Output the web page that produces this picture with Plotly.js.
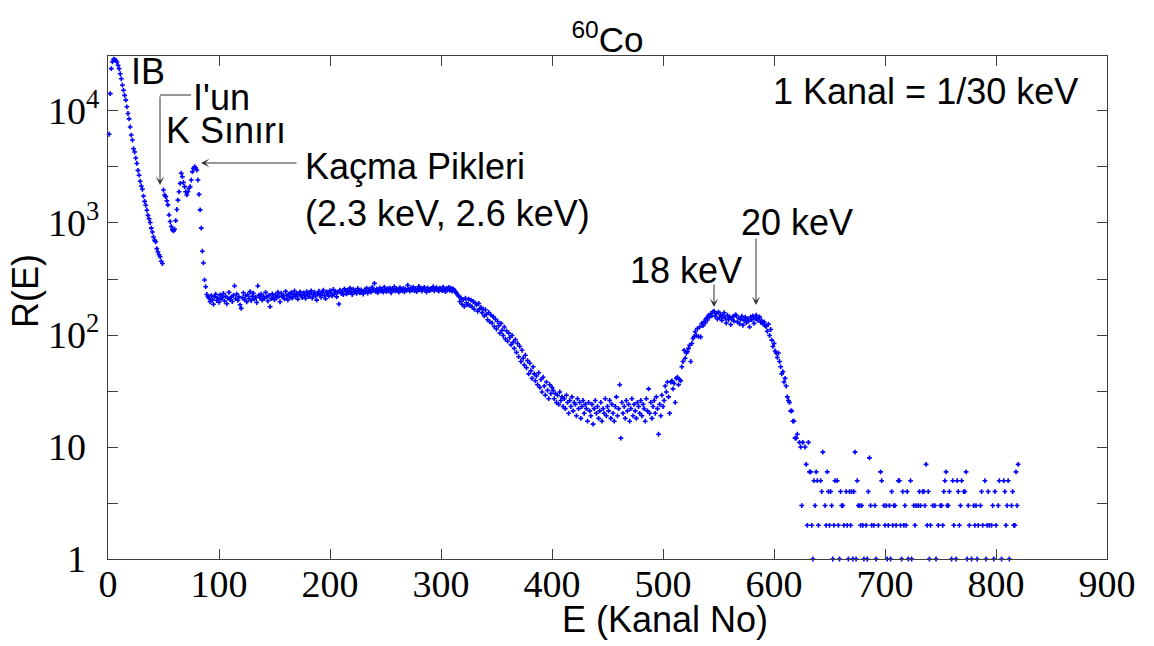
<!DOCTYPE html>
<html><head><meta charset="utf-8">
<script src="https://cdn.plot.ly/plotly-3.0.1.min.js"></script>
<style>html,body{margin:0;padding:0;background:#fff}</style>
</head><body>
<div id="chart" style="width:1154px;height:646px"></div>
<script>
// ---- DATA (counts per channel) ----
const firstChannel = 1;
// channels 1-49 : internal bremsstrahlung (IB)
const ibRegion = [6200,14300,23900,27500,29000,28900,28200,27400,25600,23900,
 21500,19400,17000,15300,13800,12500,10900,9500,8500,7200,
 6100,5500,4600,4300,3800,3400,2950,2670,2360,2140,
 2000,1740,1560,1440,1300,1170,1090,1010,900,830,
 750,700,680,590,550,520,500,455,435];
// channels 50-90 : K edge and escape peaks
const kEdgeRegion = [1970,1780,1720,1580,1450,1180,1030,930,870,850,
 880,1050,1320,1600,1900,2260,2780,2590,2300,2110,
 1900,1780,1900,2040,2110,2420,2870,3080,3180,3100,
 2970,2420,1800,1310,900,560,440,310,270,230,
 220];
// channels 91-315 : plateau
const plateau = [212,198,225,206,188,219,231,203,214,196,
 228,209,217,235,201,222,190,213,240,207,
 218,199,226,274,211,232,204,219,186,173,
 215,238,207,224,198,229,212,244,203,221,
 236,209,218,195,274,227,214,231,205,222,
 213,240,219,201,226,179,211,233,218,207,
 229,215,241,222,198,236,219,227,210,245,
 224,206,232,218,239,213,228,247,221,235,
 209,230,243,225,216,238,227,212,244,231,
 220,236,248,214,229,241,223,205,233,246,
 228,217,239,251,226,211,242,234,222,249,
 237,224,255,231,245,219,240,189,252,236,
 243,229,258,247,233,251,239,262,244,230,
 256,241,249,235,260,246,238,253,243,232,
 251,244,262,237,248,256,241,266,250,289,
 245,258,239,252,264,247,256,241,268,253,
 244,259,249,262,238,256,251,270,246,258,
 252,241,265,255,248,261,243,258,250,278,
 257,246,263,252,268,249,260,244,256,271,
 253,262,247,259,266,251,242,264,255,249,
 261,254,270,248,258,265,252,246,262,257,
 249,268,255,244,260,253,266,250,262,247,
 258,251,243,236,229];
// channels 316-400 : decline
const decline = [221,199,214,188,207,180,213,194,186,209,
 184,205,178,199,170,193,186,163,191,171,
 176,158,170,148,168,153,137,159,131,151,
 128,146,119,139,113,132,121,104,127,110,
 99,118,92,109,88,104,95,82,99,86,
 76,91,70,84,64,79,58,73,62,54,
 66,51,59,45,56,48,41,52,45,39,
 43,36,46,34,40,31,42,35,29,38,
 32,27,36,30,34];
// channels 401-505 : valley
const valley = [32,27,30,25,29,24,31,26,28,23,
 27,22,29,25,20,26,23,28,21,25,
 24,19,27,22,25,18,23,26,20,24,
 22,17,25,21,19,24,16,22,26,20,
 23,18,21,25,17,22,20,27,19,23,
 21,26,18,24,20,17,23,28,19,22,
 36,12,25,20,23,18,26,21,24,17,
 22,27,19,24,21,18,25,23,20,26,
 19,24,22,17,27,21,33,20,25,18,
 23,26,20,28,22,13,24,19,29,23,
 26,35,31,38,28];
// channels 506-613 : 18 keV / 20 keV hump
const peakRegion = [20,38,39,33,37,25,41,42,36,40,
 39,52,58,73,62,69,71,76,81,58,
 84,93,97,107,99,114,97,118,96,127,
 121,132,128,141,136,150,145,155,148,161,
 163,147,156,139,160,143,152,135,148,158,
 141,128,150,137,145,124,139,146,133,151,
 150,131,142,126,138,147,122,135,144,129,
 140,133,118,145,137,148,127,141,150,136,
 139,145,130,134,126,131,121,119,108,125,
 99,112,90,79,84,72,69,63,69,58,
 52,45,47,38,41,35,28,26];
// channels 614-820 : tail (0 = empty channel)
const tail = [25,21,21,17,17,12,12,13,0,11,
 10,3,11,0,10,7,2,11,6,6,
 2,1,5,3,6,5,2,0,5,4,
 9,0,3,2,6,4,2,4,3,1,
 2,5,0,5,2,1,4,3,3,2,
 0,4,2,1,4,2,4,1,4,9,
 1,5,3,3,2,3,2,1,0,2,
 1,4,8,3,2,0,2,3,1,0,
 2,0,6,5,0,3,2,3,1,2,
 3,1,4,2,3,3,2,0,5,5,
 2,1,4,2,3,2,4,1,0,5,
 1,0,3,2,3,0,3,4,3,0,
 4,4,3,7,2,4,1,2,0,3,
 0,3,1,0,2,0,3,3,2,4,
 5,6,3,3,4,0,1,5,2,0,
 1,5,4,2,3,5,0,4,4,6,
 1,3,2,0,1,0,3,2,3,1,
 2,0,3,4,2,0,5,1,2,4,
 2,0,2,3,1,4,2,0,3,5,
 0,1,0,5,4,2,3,5,1,0,
 3,4,2,2,6,3,7];

const xTickVals = [0,100,200,300,400,500,600,700,800,900];
const yTickVals = [1,3.1623,10,31.623,100,316.23,1000,3162.3,10000];
const PAD = "<sup><span style='color:rgba(0,0,0,0)'>0</span></sup>";
const yTickText = ['1'+PAD,'','10'+PAD,'','10<sup>2</sup>','','10<sup>3</sup>','','10<sup>4</sup>'];

// ---- BUILD ----
const counts = [].concat(ibRegion, kEdgeRegion, plateau, decline, valley, peakRegion, tail);
const channels = counts.map((_, i) => firstChannel + i);
const rates = counts.map(v => v > 0 ? v : null);

const W = 1154, H = 646;
const M = {l:108, r:47, t:56, b:87};
const px2x = p => (p - M.l) / (W - M.l - M.r);
const px2y = p => (H - M.b - p) / (H - M.t - M.b);

const SANS = 'Liberation Sans, Arial, sans-serif';
const SERIF = 'Liberation Serif, Times New Roman, serif';
const TXT = {family: SANS, size: 36, color: '#000'};

function label(text, cx, cy, extra) {
  return Object.assign({text, x: px2x(cx), y: px2y(cy), xref:'paper', yref:'paper',
    showarrow:false, font: TXT, xanchor:'center', yanchor:'middle'}, extra || {});
}
function arrow(tipX, tipY, tailX, tailY, head) {
  return {text:'', x: px2x(tipX), y: px2y(tipY), xref:'paper', yref:'paper',
    ax: tailX - tipX, ay: tailY - tipY, axref:'pixel', ayref:'pixel',
    showarrow:true, arrowhead: head, arrowsize:1.4, arrowwidth:1, arrowcolor:'#303030', standoff:0, startstandoff:0};
}

const annotations = [
  label('IB', 148, 72),
  label("I'un", 221, 97),
  label('K Sınırı', 226, 130),
  label('Kaçma Pikleri<br>(2.3 keV, 2.6 keV)', 303, 190, {xanchor:'left', align:'left'}),
  label('18 keV', 686, 270),
  label('20 keV', 797, 222),
  label('1 Kanal = 1/30 keV', 925, 91),
  label('R(E)', 25, 291, {textangle:-90}),
  label('E (Kanal No)', 665, 619),
  arrow(160, 185, 160, 95, 3),
  arrow(201, 163, 298, 163, 3),
  arrow(714, 307, 714, 283, 3),
  arrow(756, 305, 756, 237, 3)
];
const shapes = [{type:'line', xref:'paper', yref:'paper', x0: px2x(160), x1: px2x(191), y0: px2y(95), y1: px2y(95),
  line:{color:'#303030', width:1}}];

const trace = {
  x: channels, y: rates, type:'scatter', mode:'markers', cliponaxis:false,
  marker:{color:'#0000ff', symbol:'cross', size:4}, hoverinfo:'x+y'
};

const layout = {
  width: W, height: H, margin: M,
  paper_bgcolor:'#fff', plot_bgcolor:'#fff', showlegend:false,
  title: {text:'<sup>60</sup>Co', x:0.5, xref:'paper', y: 1 - 40/H, yref:'container', yanchor:'middle',
    font:{family: SANS, size: 35, color:'#000'}},
  xaxis: {range:[0,900], tickvals:xTickVals, ticks:'inside', ticklen:10, tickcolor:'#404040',
    showline:true, linecolor:'#404040', linewidth:1, mirror:'ticks', showgrid:false, zeroline:false,
    ticklabelstandoff:-9, tickfont:{family: SERIF, size: 38, color:'#000'}},
  yaxis: {type:'log', range:[0, 4.491], tickvals:yTickVals, ticktext:yTickText, ticks:'inside', ticklen:10,
    tickcolor:'#404040', showline:true, linecolor:'#404040', linewidth:1, mirror:'ticks', showgrid:false,
    zeroline:false, tickfont:{family: SERIF, size: 38, color:'#000'}},
  annotations, shapes
};

Plotly.newPlot('chart', [trace], layout, {displayModeBar:false, staticPlot:true});
</script>
</body></html>
